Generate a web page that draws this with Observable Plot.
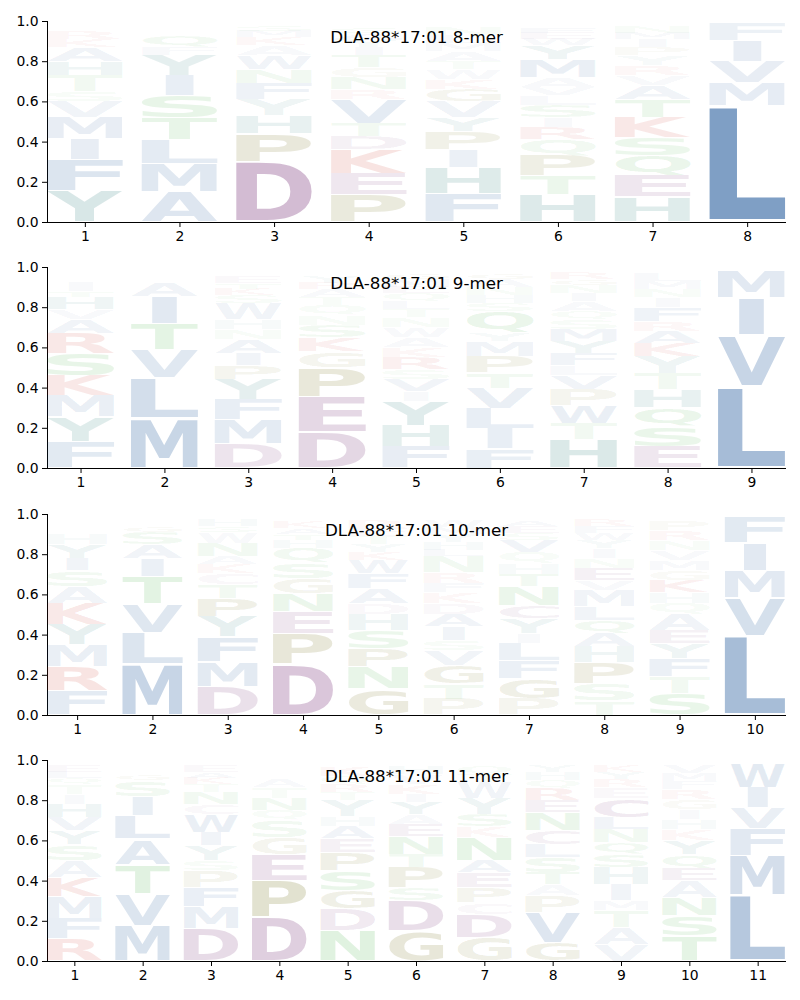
<!DOCTYPE html>
<html>
<head>
<meta charset="utf-8">
<script src="https://cdn.jsdelivr.net/npm/d3@7"></script>
<script src="https://cdn.jsdelivr.net/npm/@observablehq/plot@0.6"></script>
<style>
  body { margin: 0; background: white; }
  #wrap { position: relative; width: 800px; height: 1000px; }
  .panel { position: absolute; left: 0; }
</style>
</head>
<body>
<div id="wrap"></div>
<script>
// ---------- data ----------
const titles = ["DLA-88*17:01 8-mer", "DLA-88*17:01 9-mer", "DLA-88*17:01 10-mer", "DLA-88*17:01 11-mer"];
const yTicks = [0, 0.2, 0.4, 0.6, 0.8, 1.0];

const aminoAcids = ["A","C","D","E","F","G","H","I","K","L","M","N","P","Q","R","S","T","V","W","Y"];
const aaColors   = ["#22599b","#6c206c","#6c206c","#6c206c","#22599b","#645f00","#00645f","#22599b","#c81e14","#22599b",
                    "#22599b","#30a830","#645f00","#30a830","#c81e14","#30a830","#30a830","#22599b","#22599b","#00645f"];

// each column: letters from bottom to top with their heights
const mer8 = [
  [["Y",.154],["F",.156],["I",.105],["M",.105],["V",.08],["S",.05],["T",.08],["H",.07],["A",.07],["K",.04],["R",.04],["Q",.015],["L",.015]],
  [["A",.15],["M",.14],["L",.12],["T",.11],["S",.11],["I",.10],["Y",.10],["F",.04],["Q",.06],["W",.02],["E",.02]],
  [["D",.30],["P",.14],["H",.09],["Y",.08],["F",.08],["N",.07],["W",.07],["A",.05],["K",.04],["M",.03],["S",.03]],
  [["P",.135],["E",.105],["K",.12],["D",.065],["T",.065],["V",.12],["R",.05],["N",.06],["G",.05],["T",.06],["I",.04],["Y",.04],["A",.03],["S",.03]],
  [["F",.14],["H",.13],["I",.09],["P",.09],["Y",.07],["V",.08],["G",.06],["K",.05],["W",.05],["T",.04],["A",.05],["M",.04],["L",.04],["N",.04]],
  [["H",.135],["T",.095],["P",.10],["Q",.08],["R",.06],["I",.05],["S",.06],["L",.05],["V",.04],["A",.05],["M",.09],["Y",.07],["W",.03],["E",.03],["F",.03]],
  [["H",.125],["E",.105],["Q",.10],["S",.09],["K",.10],["T",.09],["A",.07],["V",.05],["R",.05],["Y",.05],["P",.04],["I",.04],["M",.03],["N",.03]],
  [["L",.58],["M",.115],["V",.105],["I",.105],["F",.085]]
];
const mer9 = [
  [["F",.13],["Y",.125],["M",.105],["K",.10],["S",.11],["R",.10],["A",.07],["V",.05],["H",.06],["T",.03],["I",.05],["L",.025],["Q",.025]],
  [["M",.247],["L",.20],["V",.143],["T",.13],["I",.135],["A",.065],["S",.02],["F",.02],["Y",.015]],
  [["D",.12],["M",.12],["F",.10],["Y",.10],["P",.07],["I",.06],["A",.07],["N",.05],["H",.05],["W",.08],["S",.04],["K",.03],["T",.03],["E",.03],["L",.02]],
  [["D",.18],["E",.175],["P",.145],["G",.08],["K",.07],["S",.06],["N",.05],["Q",.05],["T",.04],["A",.04],["R",.03],["Y",.03],["V",.02]],
  [["F",.105],["H",.105],["Y",.12],["I",.05],["V",.06],["S",.05],["R",.06],["K",.05],["A",.05],["W",.05],["N",.05],["T",.04],["L",.04],["Q",.04],["E",.03],["M",.04],["G",.03]],
  [["F",.097],["I",.10],["L",.10],["V",.10],["T",.075],["P",.083],["M",.075],["Y",.04],["Q",.11],["S",.04],["H",.04],["N",.04],["A",.04],["G",.03]],
  [["H",.14],["T",.08],["W",.09],["P",.08],["V",.07],["L",.05],["F",.06],["Y",.06],["M",.06],["S",.05],["Q",.04],["A",.05],["I",.04],["N",.04],["G",.03],["R",.03]],
  [["E",.105],["S",.10],["Q",.095],["H",.09],["T",.08],["Y",.085],["K",.065],["A",.06],["R",.05],["F",.07],["I",.05],["N",.04],["M",.04],["L",.04]],
  [["L",.405],["V",.255],["I",.185],["M",.135]]
];
const mer10 = [
  [["F",.12],["R",.12],["M",.11],["Y",.10],["K",.105],["A",.085],["S",.08],["I",.06],["Y",.07],["H",.055],["T",.025],["R",.02],["N",.02]],
  [["M",.255],["L",.155],["V",.145],["T",.135],["I",.09],["A",.07],["S",.06],["G",.03],["F",.02],["Q",.015]],
  [["D",.14],["M",.125],["F",.125],["Y",.10],["P",.09],["T",.07],["C",.055],["K",.045],["A",.04],["N",.065],["W",.055],["S",.03],["H",.03]],
  [["D",.255],["P",.15],["E",.11],["N",.09],["G",.075],["S",.075],["Q",.075],["H",.04],["T",.03],["A",.03],["K",.03]],
  [["G",.13],["N",.11],["P",.09],["S",.09],["H",.08],["D",.055],["A",.075],["F",.075],["W",.065],["K",.04],["Y",.04],["T",.04],["E",.04],["R",.04]],
  [["P",.08],["T",.075],["G",.09],["V",.075],["S",.05],["I",.07],["A",.06],["D",.055],["K",.055],["F",.045],["R",.055],["N",.08],["L",.03],["H",.04],["Y",.04],["M",.035],["W",.035]],
  [["P",.08],["G",.10],["F",.09],["L",.085],["I",.05],["Y",.075],["C",.065],["N",.095],["T",.06],["H",.055],["Q",.055],["V",.06],["S",.035],["E",.035],["A",.03]],
  [["T",.07],["S",.085],["P",.105],["H",.08],["A",.065],["Q",.065],["L",.07],["M",.08],["V",.05],["E",.06],["N",.05],["I",.05],["Y",.04],["W",.035],["F",.035],["R",.03]],
  [["S",.105],["T",.085],["F",.09],["Y",.075],["E",.065],["A",.08],["Q",.055],["H",.055],["K",.06],["G",.05],["M",.05],["V",.05],["N",.05],["R",.05],["P",.05]],
  [["L",.395],["V",.19],["M",.135],["I",.135],["F",.13],["Y",.01]]
];
const mer11 = [
  [["R",.11],["F",.10],["M",.11],["K",.095],["A",.085],["S",.08],["Y",.07],["V",.065],["H",.065],["I",.05],["T",.05],["Q",.03],["L",.03],["E",.03]],
  [["M",.176],["V",.157],["T",.147],["A",.127],["L",.116],["I",.097],["S",.08],["G",.03],["F",.02],["Y",.02]],
  [["D",.16],["M",.11],["F",.095],["P",.085],["S",.05],["Y",.075],["I",.065],["W",.09],["C",.05],["N",.06],["T",.04],["K",.03],["A",.03],["E",.03]],
  [["D",.217],["P",.183],["E",.13],["G",.085],["S",.085],["Q",.05],["N",.06],["T",.055],["A",.04],["H",.025],["K",.02],["Y",.02]],
  [["N",.15],["D",.11],["G",.09],["S",.10],["P",.09],["E",.07],["A",.06],["H",.05],["Y",.08],["T",.04],["R",.04],["Q",.04],["K",.05]],
  [["G",.15],["D",.15],["S",.065],["P",.10],["T",.065],["N",.09],["E",.06],["A",.05],["Y",.06],["I",.04],["K",.05],["V",.05],["H",.04]],
  [["G",.118],["D",.116],["C",.056],["P",.075],["E",.075],["A",.06],["N",.115],["K",.055],["S",.06],["Y",.08],["W",.08],["T",.04],["Q",.04]],
  [["G",.09],["V",.15],["P",.085],["A",.055],["T",.06],["S",.075],["L",.065],["C",.07],["N",.09],["E",.06],["R",.06],["Q",.04],["H",.04],["Y",.03]],
  [["V",.08],["A",.085],["T",.085],["M",.05],["I",.08],["H",.085],["S",.065],["Q",.06],["N",.065],["L",.06],["C",.095],["E",.055],["R",.04],["Y",.035],["K",.03]],
  [["T",.125],["S",.10],["N",.09],["A",.085],["E",.06],["Q",.07],["Y",.07],["K",.055],["H",.05],["I",.05],["G",.05],["R",.05],["F",.04],["M",.04],["V",.04]],
  [["L",.33],["M",.195],["F",.135],["V",.105],["I",.10],["W",.125],["Y",.005]]
];
const panels = [mer8, mer9, mer10, mer11];

// ---------- glyph metrics ----------
const FONT_FAMILY = "DejaVu Sans";
const ctx = document.createElement("canvas").getContext("2d");
ctx.font = `bold 100px "${FONT_FAMILY}"`;
ctx.textAlign = "left";
ctx.textBaseline = "alphabetic";
const metricCache = {};
function metrics(ch) {
  if (!metricCache[ch]) {
    const m = ctx.measureText(ch);
    metricCache[ch] = {l: m.actualBoundingBoxLeft, r: m.actualBoundingBoxRight, a: m.actualBoundingBoxAscent, d: m.actualBoundingBoxDescent};
  }
  return metricCache[ch];
}
// narrow glyphs keep a narrow footprint, centred in their slot
const narrowShare = {I: 0.37};

// replace every letter rectangle drawn by Plot with a stretched glyph filling it
function glyphify(svg) {
  const ns = "http://www.w3.org/2000/svg";
  svg.querySelectorAll("rect").forEach(r => {
    const tt = r.querySelector("title");
    if (!tt) return;
    const ch = tt.textContent.trim();
    let x = +r.getAttribute("x");
    const y = +r.getAttribute("y");
    let w = +r.getAttribute("width");
    const h = +r.getAttribute("height");
    if (narrowShare[ch]) { const nw = w * narrowShare[ch]; x += (w - nw) / 2; w = nw; }
    const m = metrics(ch);
    const sx = w / (m.l + m.r), sy = h / (m.a + m.d);
    const t = document.createElementNS(ns, "text");
    t.setAttribute("transform", `translate(${x + m.l * sx},${y + m.a * sy}) scale(${sx},${sy})`);
    t.setAttribute("text-anchor", "start");
    t.setAttribute("dominant-baseline", "alphabetic");
    t.setAttribute("font-family", FONT_FAMILY);
    t.setAttribute("font-weight", "bold");
    t.setAttribute("font-size", "100");
    t.setAttribute("fill", r.getAttribute("fill") || "black");
    const fo = r.getAttribute("fill-opacity");
    if (fo != null) t.setAttribute("fill-opacity", fo);
    t.textContent = ch;
    r.replaceWith(t);
  });
}

// ---------- draw ----------
const wrap = document.getElementById("wrap");
const tops = [0, 246, 493, 739];
panels.forEach((cols, pi) => {
  const n = cols.length;
  const rows = [];
  cols.forEach((col, ci) => {
    let base = 0;
    col.forEach(([letter, h]) => {
      rows.push({pos: ci + 1, letter, h, y1: base + 0.025 * h, y2: base + h - 0.025 * h});
      base += h;
    });
  });
  const positions = d3.range(1, n + 1);
  const chart = Plot.plot({
    width: 800,
    height: 246,
    marginLeft: 47,
    marginRight: 15,
    marginTop: 21,
    marginBottom: 24,
    style: {fontFamily: FONT_FAMILY, fontSize: "13.9px", background: "white", color: "black", overflow: "visible"},
    x: {type: "linear", domain: [0.6, n + 0.4], ticks: positions, tickFormat: d => String(d), tickSize: 5, tickPadding: 4, label: null, line: true},
    y: {domain: [0, 1], ticks: yTicks, tickFormat: d3.format(".1f"), tickSize: 5, tickPadding: 4, label: null, line: true},
    color: {type: "ordinal", domain: aminoAcids, range: aaColors},
    opacity: {type: "linear", domain: [0, 1], range: [0, 1]},
    marks: [
      Plot.rect(rows, {
        x1: d => d.pos - 0.4, x2: d => d.pos + 0.4,
        y1: "y1", y2: "y2",
        fill: "letter", fillOpacity: "h", title: "letter", inset: 0
      }),
      Plot.text([titles[pi]], {text: d => d, frameAnchor: "top", dy: 21.3, lineAnchor: "bottom", fontSize: 16.7, fill: "black"})
    ]
  });
  const holder = document.createElement("div");
  holder.className = "panel";
  holder.style.top = tops[pi] + "px";
  holder.appendChild(chart);
  wrap.appendChild(holder);
  glyphify(chart.tagName.toLowerCase() === "svg" ? chart : chart.querySelector("svg"));
});
</script>
</body>
</html>
